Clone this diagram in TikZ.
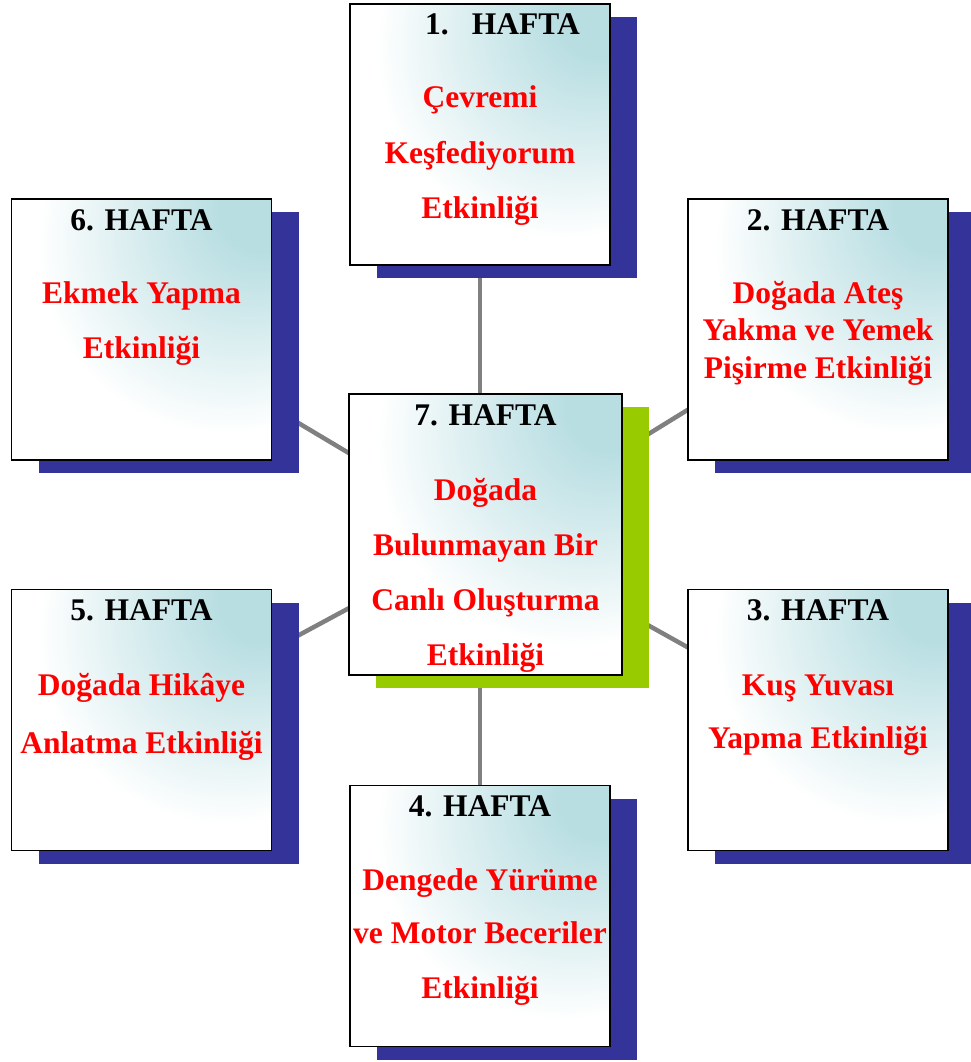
\documentclass[tikz,border=0pt]{standalone}
\usepackage{fontspec}
\setmainfont{Liberation Serif}
\usetikzlibrary{calc}
\definecolor{shblue}{HTML}{333399}
\definecolor{shgreen}{HTML}{99CC00}
\definecolor{tealb}{HTML}{B8DEE2}
\definecolor{tealm}{HTML}{DBEEF0}
\definecolor{connc}{HTML}{808080}
\pgfdeclareradialshading{wkshade}{\pgfpoint{25bp}{25bp}}{color(0bp)=(tealb); color(8bp)=(tealb); color(22bp)=(tealm); color(36bp)=(white); color(100bp)=(white)}
\tikzset{
 wk/.style={draw=black, line width=1.6pt, shading=wkshade, minimum width=260pt, minimum height=261pt, inner sep=0pt, outer sep=0pt},
 shadowbox/.style={fill=shblue, minimum width=260pt, minimum height=261pt, inner sep=0pt, outer sep=0pt},
 hd/.style={anchor=base, font=\bfseries\fontsize{31.5}{31.5}\selectfont, text=black, inner sep=0pt},
 tx/.style={anchor=base, font=\bfseries\fontsize{31.5}{31.5}\selectfont, text=red, inner sep=0pt},
 link/.style={draw=connc, line width=4.5pt}
}
\begin{document}
\begin{tikzpicture}[x=1pt,y=-1pt]
\useasboundingbox (0,0) rectangle (971,1062);
% centres
\coordinate (c1) at (480,134.5);
\coordinate (c2) at (818,329.5);
\coordinate (c3) at (818,720);
\coordinate (c4) at (480,916);
\coordinate (c5) at (141.5,720);
\coordinate (c6) at (141.5,329.5);
\coordinate (c7) at (485.5,534.5);
% connectors
\draw[link] (c1) -- (c4);
\draw[link] (c7) -- (c2);
\draw[link] (c7) -- (c3);
\draw[link] (c7) -- (c5);
\draw[link] (c7) -- (c6);
% shadows
\foreach \c in {1,...,6} {
  \node[shadowbox] (s\c) at ($(c\c)+(27,13)$) {};
}
\node[shadowbox, fill=shgreen, minimum width=273pt, minimum height=281pt] (s7) at ($(c7)+(27,13)$) {};
% boxes
\foreach \c in {1,...,6} {
  \node[wk] (b\c) at (c\c) {};
}
\node[wk, minimum width=273pt, minimum height=281pt] (b7) at (c7) {};
% texts box 1
\node[hd, anchor=base west] (h1) at (425,35) {1.\hspace{23pt}HAFTA};
\node[tx] (t1a) at (480,108) {Çevremi};
\node[tx] (t1b) at (480,163) {Keşfediyorum};
\node[tx] (t1c) at (480,218) {Etkinliği};
% box 2
\node[hd] (h2) at (818,230) {2. HAFTA};
\node[tx] (t2a) at (818,303) {Doğada Ateş};
\node[tx] (t2b) at (818,340.5) {Yakma ve Yemek};
\node[tx] (t2c) at (818,378) {Pişirme Etkinliği};
% box 3
\node[hd] (h3) at (818,620) {3. HAFTA};
\node[tx] (t3a) at (818,695) {Kuş Yuvası};
\node[tx] (t3b) at (818,748) {Yapma Etkinliği};
% box 4
\node[hd] (h4) at (480,816) {4. HAFTA};
\node[tx] (t4a) at (480,890) {Dengede Yürüme};
\node[tx] (t4b) at (480,943) {ve Motor Beceriler};
\node[tx] (t4c) at (480,998) {Etkinliği};
% box 5
\node[hd] (h5) at (141.5,620) {5. HAFTA};
\node[tx] (t5a) at (141.5,695) {Doğada Hikâye};
\node[tx] (t5b) at (141.5,753) {Anlatma Etkinliği};
% box 6
\node[hd] (h6) at (141.5,230) {6. HAFTA};
\node[tx] (t6a) at (141.5,303) {Ekmek Yapma};
\node[tx] (t6b) at (141.5,358) {Etkinliği};
% box 7
\node[hd] (h7) at (485.5,425) {7. HAFTA};
\node[tx] (t7a) at (485.5,500) {Doğada};
\node[tx] (t7b) at (485.5,555) {Bulunmayan Bir};
\node[tx] (t7c) at (485.5,610) {Canlı Oluşturma};
\node[tx] (t7d) at (485.5,665) {Etkinliği};
\end{tikzpicture}
\end{document}
